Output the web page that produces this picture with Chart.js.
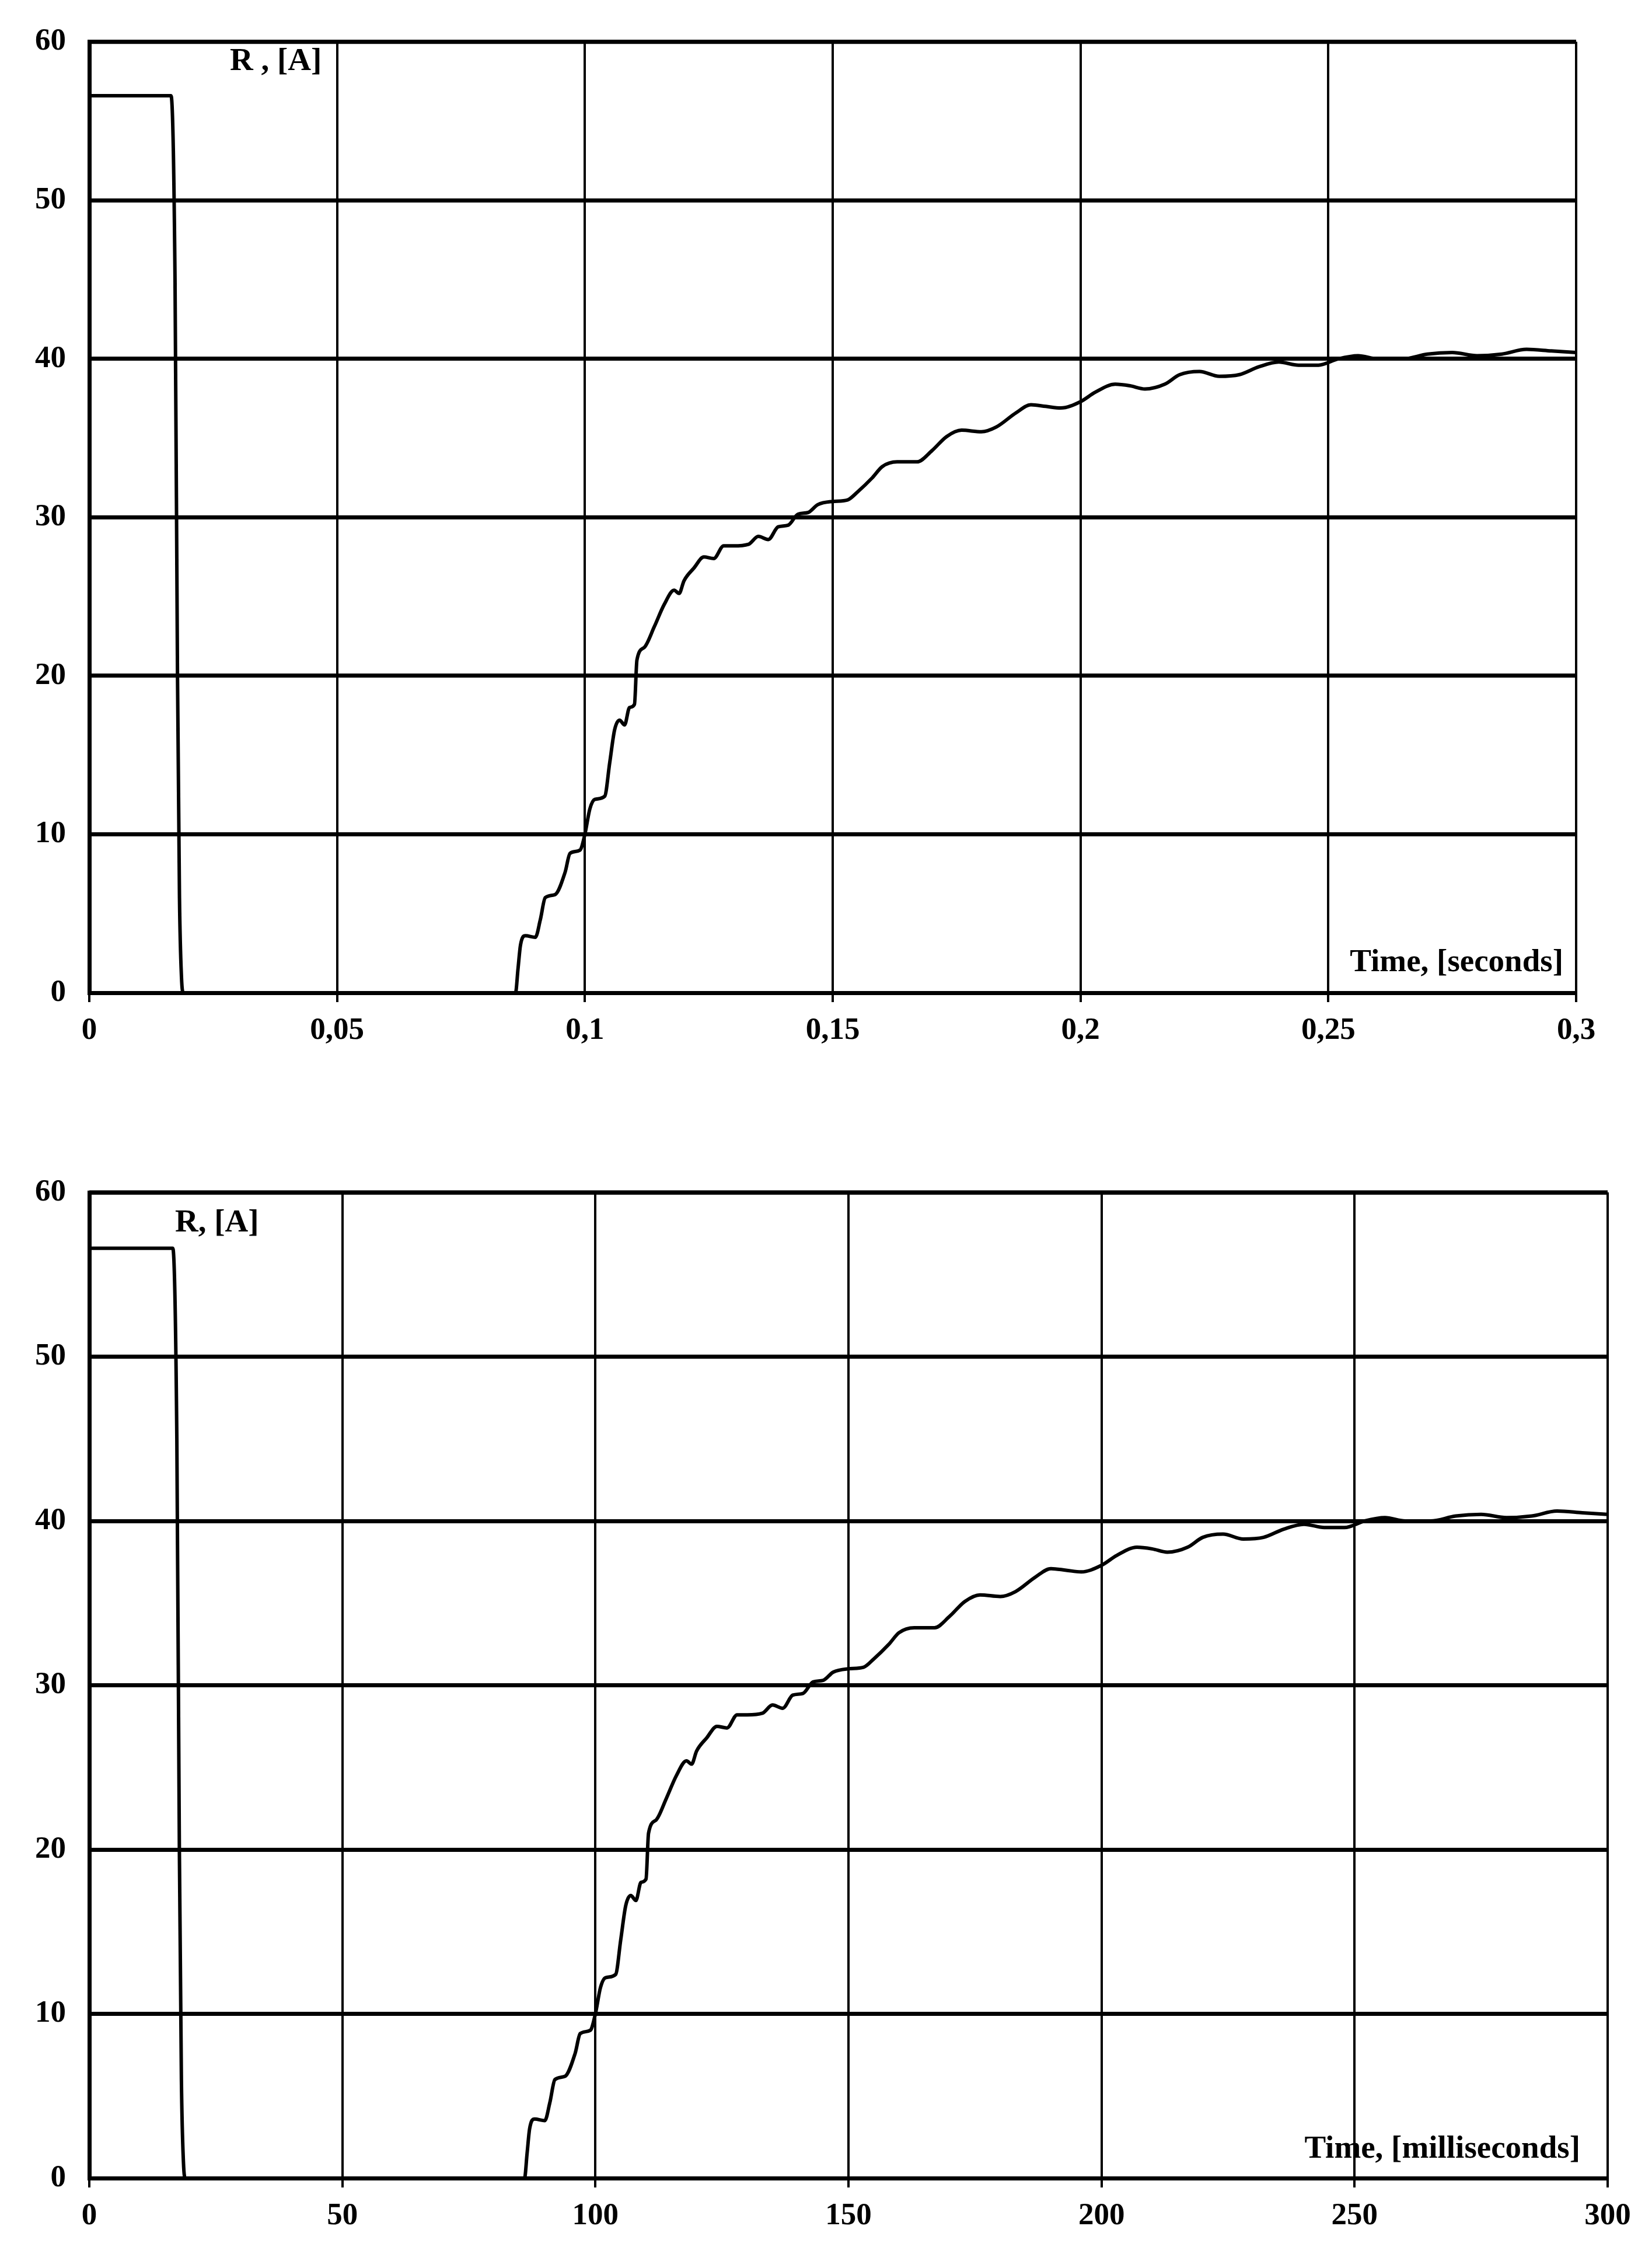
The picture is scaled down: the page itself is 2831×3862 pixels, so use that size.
<!DOCTYPE html>
<html><head><meta charset="utf-8">
<script src="https://cdn.jsdelivr.net/npm/chart.js@4/dist/chart.umd.min.js"></script>
<style>body{margin:0;background:#fff;width:2831px;height:3862px;position:relative;overflow:hidden}
.c{position:absolute;left:0}</style></head><body>
<div class="c" style="top:0;width:2831px;height:1850px"><canvas id="c1"></canvas></div>
<div class="c" style="top:1950px;width:2831px;height:1912px"><canvas id="c2"></canvas></div>
<script>
const timeMs = [0,16.5,17.3,17.8,18.2,18.6,19,86,86.5,87,88,90,91,92,94,96,97,99,100,101,102,104,105,106,107,108,109,110,110.5,112,114,116,118,119,120,122,124,126,128,130,133,135,137,139,141,143,145,147,150,153,155,158,160,163,167,170,173,176,180,183,187,190,193,196,200,203,207,210,213,217,220,224,228,232,236,240,244,248,252,256,260,265,270,275,280,285,290,295,300];
const current = [56.6,56.6,45,20,6,1,0,0,1.5,3,3.6,3.5,4.6,6,6.2,7.6,8.8,9,10,11.6,12.2,12.4,14.5,16.6,17.2,16.9,18,18.2,21,21.8,23.1,24.5,25.4,25.2,26,26.8,27.5,27.4,28.2,28.2,28.3,28.8,28.6,29.4,29.5,30.2,30.3,30.8,31,31.1,31.6,32.5,33.2,33.5,33.5,34.2,35.1,35.5,35.4,35.7,36.6,37.1,37.0,36.9,37.3,37.9,38.4,38.3,38.1,38.4,39.0,39.2,38.9,39.0,39.5,39.8,39.6,39.6,40.0,40.2,40.0,40.0,40.3,40.4,40.2,40.3,40.6,40.5,40.4];
const timeSec = timeMs.map(t => t / 1000);
const yTicks = [0,10,20,30,40,50,60];
const secTicks = [0,0.05,0.1,0.15,0.2,0.25,0.3];
const msTicks = [0,50,100,150,200,250,300];

Chart.defaults.devicePixelRatio = 1;
const FONT = {family:'"Liberation Serif", "DejaVu Serif", serif', size:53, weight:'bold'};

function labels(items){
  return {id:'lbl', afterDraw(ch){
    const c = ch.ctx; c.save(); c.fillStyle='#000';
    c.font = 'bold 55px "Liberation Serif", serif'; c.textBaseline='middle';
    items.forEach(it => { c.textAlign = it.align; c.fillText(it.text, it.x, it.y); });
    c.restore();
  }};
}

function make(id, xs, xTicks, fmt, pad, xH, lbls){
  const pts = xs.map((x,i)=>({x, y:current[i]}));
  const xmax = xTicks[xTicks.length-1];
  new Chart(document.getElementById(id), {
    type:'scatter',
    data:{datasets:[{data:pts, showLine:true, borderColor:'#000', borderWidth:6, pointRadius:0, tension:0.25, cubicInterpolationMode:'monotone'}]},
    options:{responsive:true, maintainAspectRatio:false, animation:false,
      layout:{padding:pad},
      plugins:{legend:{display:false}, tooltip:{enabled:false}},
      scales:{
        x:{type:'linear', min:0, max:xmax,
          afterBuildTicks(a){ a.ticks = xTicks.map(v=>({value:v})); },
          afterFit(a){ a.height = xH; },
          grid:{color:'#000', lineWidth:4, tickLength:16, drawOnChartArea:true},
          border:{color:'#000', width:7},
          ticks:{color:'#000', font:FONT, padding:18, maxRotation:0, callback:fmt}},
        y:{min:0, max:60,
          afterBuildTicks(a){ a.ticks = yTicks.map(v=>({value:v})); },
          afterFit(a){ a.width = 153 - pad.left; },
          grid:{color:'#000', lineWidth:7, tickLength:0},
          border:{color:'#000', width:7},
          ticks:{color:'#000', font:FONT, padding:40}}
      }},
    plugins:[{id:'frame', afterDraw(ch){ const a=ch.chartArea,c=ch.ctx; c.save(); c.strokeStyle='#000';
      c.lineWidth=7; c.beginPath(); c.moveTo(a.left,a.top); c.lineTo(a.right,a.top); c.stroke();
      c.lineWidth=4; c.beginPath(); c.moveTo(a.right,a.top); c.lineTo(a.right,a.bottom); c.stroke(); c.restore(); }},
      labels(lbls)]
  });
}

make('c1', timeSec, secTicks, v => String(v).replace('.', ','), {left:0,right:130,top:54,bottom:0}, 149,
  [{text:'R , [A]', x:394, y:106, align:'left'}, {text:'Time, [seconds]', x:2679, y:1650, align:'right'}]);
make('c2', timeMs, msTicks, v => String(v), {left:0,right:76,top:93,bottom:0}, 130,
  [{text:'R, [A]', x:300, y:146, align:'left'}, {text:'Time, [milliseconds]', x:2708, y:1733, align:'right'}]);
</script></body></html>
